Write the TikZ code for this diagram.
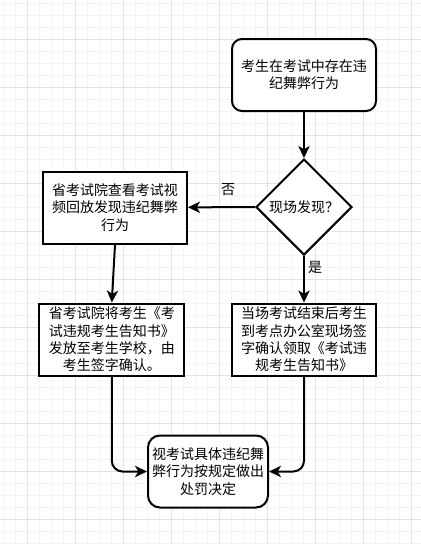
\documentclass[tikz,border=0pt]{standalone}
\usepackage{fontspec}
\setmainfont{Noto Sans CJK SC}
\usetikzlibrary{shapes.geometric,arrows.meta}
\definecolor{gridminor}{HTML}{F3F3F3}
\definecolor{gridmajor}{HTML}{E3E3E3}
\begin{document}
\begin{tikzpicture}[x=0.75pt,y=-0.75pt,
  txt/.style={font=\fontsize{10.5pt}{13pt}\selectfont},
  box/.style={txt, draw, line width=1.5pt, minimum width=108pt, minimum height=54pt, inner sep=0pt, align=center, fill=white},
  rbox/.style={box, rounded corners=7.5pt},
  decision/.style={txt, draw, diamond, aspect=1, line width=1.5pt, minimum width=72pt, minimum height=72pt, inner sep=0pt, fill=white},
  conn/.style={line width=1.5pt, -{Stealth[length=9pt,width=8.5pt,inset=2.5pt]}},
  lbl/.style={txt, inner sep=0pt},
  gminor/.style={gridminor, line width=0.75pt},
  gmajor/.style={gridmajor, line width=0.75pt}
]
\useasboundingbox (0,0) rectangle (421,544);
\fill[white] (0,0) rectangle (421,544);
% grid
\foreach \i in {0,...,35} { \draw[gminor] ({3.7+12*\i},0) -- ({3.7+12*\i},544); }
\foreach \i in {0,...,45} { \draw[gminor] (0,{3.5+12*\i}) -- (421,{3.5+12*\i}); }
\foreach \i in {0,...,8} { \draw[gmajor] ({27.7+48*\i},0) -- ({27.7+48*\i},544); }
\foreach \i in {0,...,10} { \draw[gmajor] (0,{39.5+48*\i}) -- (421,{39.5+48*\i}); }

% nodes
\node[rbox] (start) at (304,75) {考生在考试中存在违\\纪舞弊行为};
\node[decision] (dia) at (304,207) {现场发现？};
\node[box] (video) at (115,207.5) {省考试院查看考试视\\频回放发现违纪舞弊\\行为};
\node[box, minimum width=109pt] (school) at (111.8,339.5) {省考试院将考生《考\\试违规考生告知书》\\发放至考生学校，由\\考生签字确认。};
\node[box] (office) at (304,339.5) {当场考试结束后考生\\到考点办公室现场签\\字确认领取《考试违\\规考生告知书》};
\node[rbox, minimum width=90pt, rounded corners=9pt] (final) at (208,471.5) {视考试具体违纪舞\\弊行为按规定做出\\处罚决定};

% labels
\node[lbl] (no) at (228,190) {否};
\node[lbl] (yes) at (315,267) {是};

% connectors
\draw[conn] (start) -- (dia);
\draw[conn] (dia) -- (video);
\draw[conn] (dia) -- (office);
\draw[conn] (video.south) -- (school.north);
\draw[conn, rounded corners=8pt] (school.south) |- (final.west);
\draw[conn, rounded corners=8pt] (office.south) |- (final.east);
\end{tikzpicture}
\end{document}
